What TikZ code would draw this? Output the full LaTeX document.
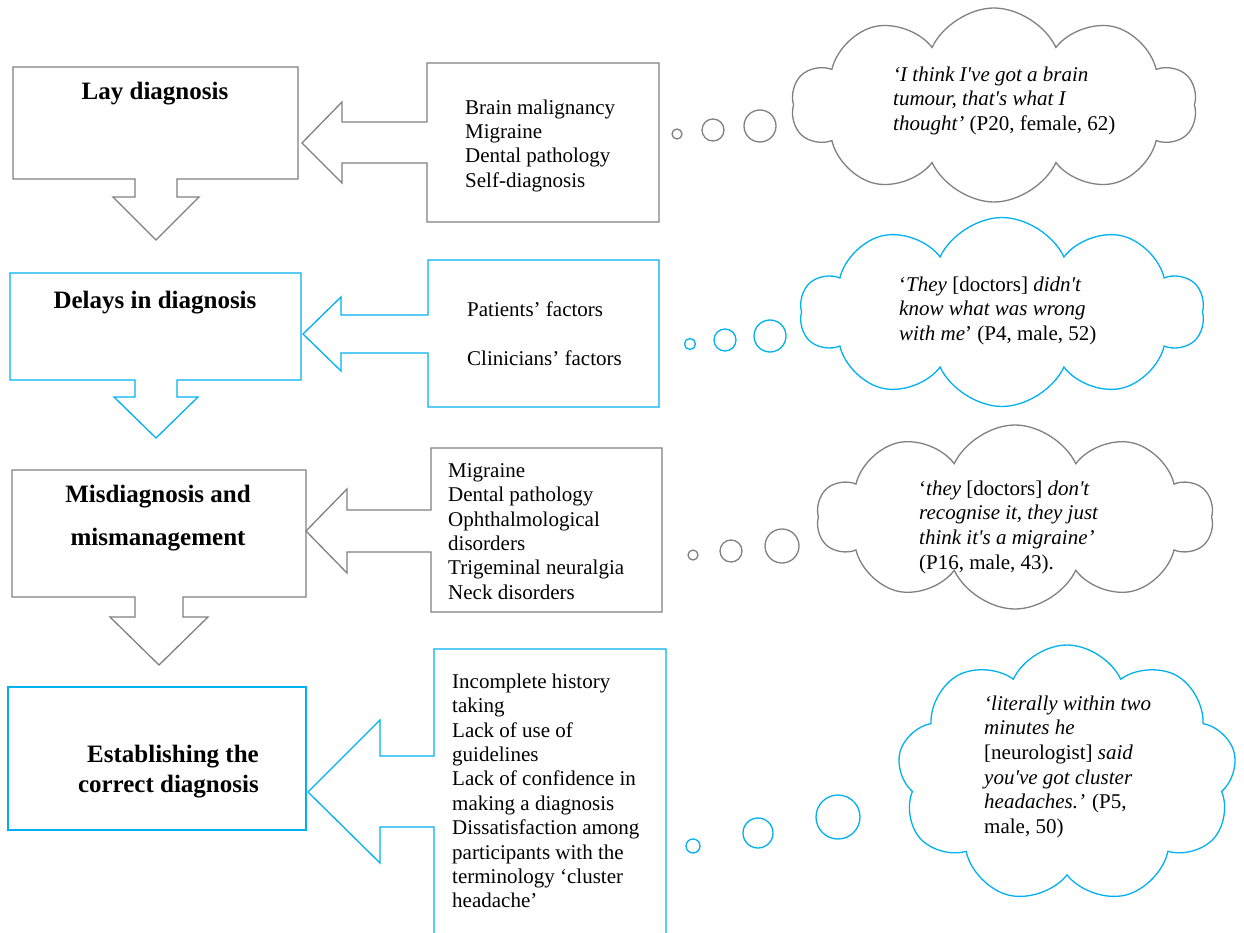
\documentclass[tikz,border=0pt]{standalone}
\usepackage{fontspec}
\setmainfont{Liberation Serif}
\usetikzlibrary{shapes.symbols}
\definecolor{gline}{RGB}{128,128,128}
\definecolor{bline}{RGB}{0,176,240}
\newcommand\firstln{\rule{0pt}{15pt}}
\begin{document}
\begin{tikzpicture}[x=1pt,y=-1pt, line join=miter,
  gshape/.style={draw=gline, line width=1.3pt},
  bshape/.style={draw=bline, line width=1.3pt},
  title/.style={font=\fontsize{25}{30}\selectfont\bfseries, inner sep=0},
  listtxt/.style={font=\fontsize{21}{24.4}\selectfont, align=left, anchor=north west, inner sep=0},
  quote/.style={font=\fontsize{21}{24.6}\selectfont, align=left, anchor=north west, inner sep=0},
  bubble/.style={circle, inner sep=0, line width=1.3pt},
  cloudshape/.style={cloud, cloud puffs=10, cloud puff arc=130, cloud ignores aspect, inner sep=0, line width=1.3pt}]
\useasboundingbox (0,0) rectangle (1244,933);

% ---------- row 1 (grey)
\draw[gshape] (13,67) -- (298,67) -- (298,179) -- (177,179) -- (177,197) -- (199,197) -- (156,240) -- (113,197) -- (135,197) -- (135,179) -- (13,179) -- cycle;
\draw[gshape] (427,63) -- (659,63) -- (659,222) -- (427,222) -- (427,163) -- (342,163) -- (342,183) -- (302,143) -- (342,102) -- (342,122) -- (427,122) -- cycle;
\node[title, anchor=base] (t1) at (155,100) {Lay diagnosis};
\node[listtxt] (l1) at (465,99) {\firstln Brain malignancy\\Migraine\\Dental pathology\\Self-diagnosis};
\node[bubble, draw=gline, minimum size=10] (b1a) at (677,134) {};
\node[bubble, draw=gline, minimum size=22] (b1b) at (713,130) {};
\node[bubble, draw=gline, minimum size=32] (b1c) at (760,126) {};
\node[cloudshape, draw=gline, minimum width=405, minimum height=194] (c1) at (994,105) {};
\node[quote] (q1) at (893,66) {\firstln\textit{‘I think I\textquotesingle ve got a brain}\\\textit{tumour, that\textquotesingle s what I}\\\textit{thought’} (P20, female, 62)};

% ---------- row 2 (blue)
\draw[bshape] (10,273) -- (301,273) -- (301,380) -- (177,380) -- (177,397) -- (198,397) -- (156,438) -- (114,397) -- (135,397) -- (135,380) -- (10,380) -- cycle;
\draw[bshape] (428,260) -- (659,260) -- (659,407) -- (428,407) -- (428,353) -- (341,353) -- (341,371) -- (303,334) -- (341,297) -- (341,315) -- (428,315) -- cycle;
\node[title, anchor=base] (t2) at (155,308) {Delays in diagnosis};
\node[listtxt] (l2) at (467,301) {\firstln Patients’ factors\\[24.4pt]Clinicians’ factors};
\node[bubble, draw=bline, minimum size=11] (b2a) at (690,344) {};
\node[bubble, draw=bline, minimum size=22] (b2b) at (725,340) {};
\node[bubble, draw=bline, minimum size=32] (b2c) at (770,336) {};
\node[cloudshape, draw=bline, minimum width=404, minimum height=189] (c2) at (1002,312) {};
\node[quote] (q2) at (899,276) {\firstln ‘\textit{They} [doctors] \textit{didn\textquotesingle t}\\\textit{know what was wrong}\\\textit{with me}’ (P4, male, 52)};

% ---------- row 3 (grey)
\draw[gshape] (12,470) -- (306,470) -- (306,597) -- (183,597) -- (183,617) -- (208,617) -- (159,665) -- (110,617) -- (135,617) -- (135,597) -- (12,597) -- cycle;
\draw[gshape] (431,448) -- (662,448) -- (662,612) -- (431,612) -- (431,552) -- (347,552) -- (347,573) -- (306,531) -- (347,489) -- (347,510) -- (431,510) -- cycle;
\node[title, anchor=base] (t3a) at (158,502) {Misdiagnosis and};
\node[title, anchor=base] (t3b) at (158,545) {mismanagement};
\node[listtxt] (l3) at (448,462) {\firstln Migraine\\Dental pathology\\Ophthalmological\\disorders\\Trigeminal neuralgia\\Neck disorders};
\node[bubble, draw=gline, minimum size=10] (b3a) at (693,555) {};
\node[bubble, draw=gline, minimum size=22] (b3b) at (731,551) {};
\node[bubble, draw=gline, minimum size=34] (b3c) at (782,546) {};
\node[cloudshape, draw=gline, minimum width=396, minimum height=184] (c3) at (1015,517) {};
\node[quote] (q3) at (919,480) {\firstln ‘\textit{they} [doctors] \textit{don\textquotesingle t}\\\textit{recognise it, they just}\\\textit{think it\textquotesingle s a migraine’}\\(P16, male, 43).};

% ---------- row 4 (blue)
\draw[bshape] (8,687) rectangle (306,830);
\draw[bshape] (434,933) -- (434,827) -- (380,827) -- (380,863) -- (308,792) -- (380,720) -- (380,756) -- (434,756) -- (434,649) -- (666,649) -- (666,933);
\node[title, anchor=base east] (t4a) at (259,762) {Establishing the};
\node[title, anchor=base east] (t4b) at (259,792) {correct diagnosis};
\node[listtxt] (l4) at (452,673) {\firstln Incomplete history\\taking\\Lack of use of\\guidelines\\Lack of confidence in\\making a diagnosis\\Dissatisfaction among\\participants with the\\terminology ‘cluster\\headache’};
\node[bubble, draw=bline, minimum size=14] (b4a) at (693,846) {};
\node[bubble, draw=bline, minimum size=30] (b4b) at (758,833) {};
\node[bubble, draw=bline, minimum size=44] (b4c) at (838,817) {};
\node[cloudshape, draw=bline, cloud puffs=9, minimum width=339, minimum height=258] (c4) at (1067,774) {};
\node[quote] (q4) at (984,695) {\firstln\textit{‘literally within two}\\\textit{minutes he}\\{[neurologist]} \textit{said}\\\textit{you\textquotesingle ve got cluster}\\\textit{headaches.’} (P5,\\male, 50)};
\end{tikzpicture}
\end{document}
